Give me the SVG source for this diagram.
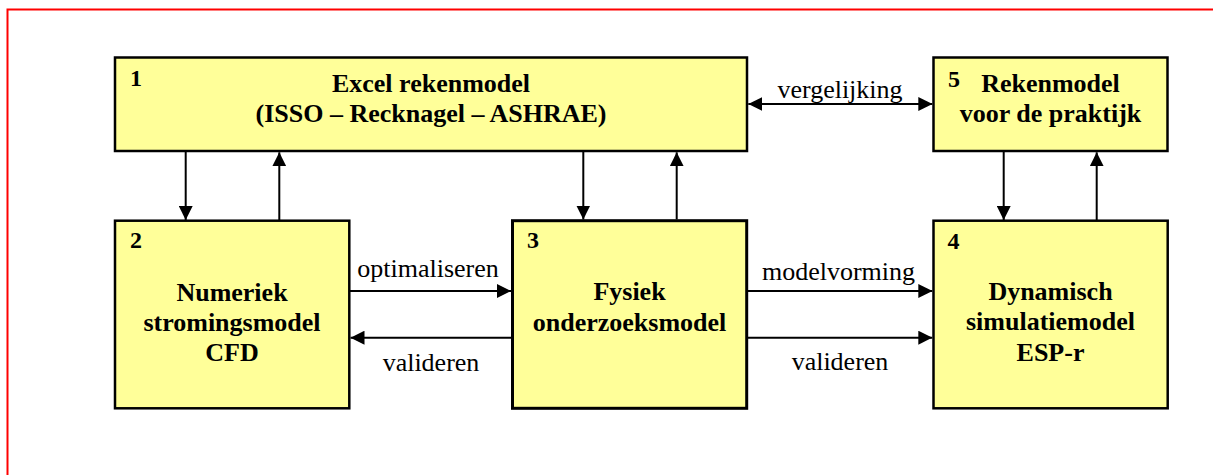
<svg xmlns="http://www.w3.org/2000/svg" width="1213" height="475" viewBox="0 0 1213 475">
<style>
.box{fill:#FFFF99;stroke:#000;stroke-width:2.5}
.c{stroke:#000;stroke-width:2;fill:none}
</style>
<defs>
<marker id="ah" viewBox="0 0 14 14" refX="14" refY="7" markerWidth="14" markerHeight="14" markerUnits="userSpaceOnUse" orient="auto-start-reverse">
<path d="M0,0 L14,7 L0,14 Z" fill="#000"/>
</marker>
</defs>
<rect x="0" y="0" width="1213" height="475" fill="#fff"/>
<rect x="7.5" y="9.5" width="1220" height="480" fill="none" stroke="#FF0000" stroke-width="2"/>
<g id="node1">
<rect class="box" x="115" y="57.5" width="632" height="93.5"/>
<text x="130" y="86" font-family="Liberation Serif" font-size="24" font-weight="bold">1</text>
<text x="431" y="91.5" font-family="Liberation Serif" font-size="26" font-weight="bold" text-anchor="middle">Excel rekenmodel</text>
<text x="431" y="121.5" font-family="Liberation Serif" font-size="26" font-weight="bold" text-anchor="middle">(ISSO – Recknagel – ASHRAE)</text>
</g>
<g id="node5">
<rect class="box" x="933.5" y="57.5" width="234" height="93.5"/>
<text x="948" y="86.5" font-family="Liberation Serif" font-size="24" font-weight="bold">5</text>
<text x="1050.5" y="92" font-family="Liberation Serif" font-size="26" font-weight="bold" text-anchor="middle">Rekenmodel</text>
<text x="1050.5" y="121.5" font-family="Liberation Serif" font-size="26" font-weight="bold" text-anchor="middle">voor de praktijk</text>
</g>
<g id="node2">
<rect class="box" x="115" y="220.7" width="234.3" height="187.6"/>
<text x="130" y="248.3" font-family="Liberation Serif" font-size="24" font-weight="bold">2</text>
<text x="232" y="300.5" font-family="Liberation Serif" font-size="26" font-weight="bold" text-anchor="middle">Numeriek</text>
<text x="232" y="330.5" font-family="Liberation Serif" font-size="26" font-weight="bold" text-anchor="middle">stromingsmodel</text>
<text x="232" y="361" font-family="Liberation Serif" font-size="26" font-weight="bold" text-anchor="middle">CFD</text>
</g>
<g id="node3">
<rect class="box" x="512.5" y="220.7" width="234.2" height="187.6" style="stroke-width:3"/>
<text x="527" y="248.3" font-family="Liberation Serif" font-size="24" font-weight="bold">3</text>
<text x="629.5" y="300" font-family="Liberation Serif" font-size="26" font-weight="bold" text-anchor="middle">Fysiek</text>
<text x="629.5" y="331" font-family="Liberation Serif" font-size="26" font-weight="bold" text-anchor="middle">onderzoeksmodel</text>
</g>
<g id="node4">
<rect class="box" x="933.5" y="220.7" width="234.2" height="187.6"/>
<text x="947.5" y="249" font-family="Liberation Serif" font-size="24" font-weight="bold">4</text>
<text x="1050.5" y="300" font-family="Liberation Serif" font-size="26" font-weight="bold" text-anchor="middle">Dynamisch</text>
<text x="1050.5" y="330" font-family="Liberation Serif" font-size="26" font-weight="bold" text-anchor="middle">simulatiemodel</text>
<text x="1050.5" y="361" font-family="Liberation Serif" font-size="26" font-weight="bold" text-anchor="middle">ESP-r</text>
</g>
<g id="connectors">
<line class="c" x1="185.7" y1="151" x2="185.7" y2="220" marker-end="url(#ah)"/>
<line class="c" x1="279.3" y1="220.7" x2="279.3" y2="152.3" marker-end="url(#ah)"/>
<line class="c" x1="583.3" y1="151" x2="583.3" y2="219.5" marker-end="url(#ah)"/>
<line class="c" x1="676.7" y1="219.5" x2="676.7" y2="152.3" marker-end="url(#ah)"/>
<line class="c" x1="1003.7" y1="151" x2="1003.7" y2="220" marker-end="url(#ah)"/>
<line class="c" x1="1096.7" y1="220.7" x2="1096.7" y2="152.3" marker-end="url(#ah)"/>
<line class="c" x1="748.3" y1="104" x2="932.3" y2="104" marker-start="url(#ah)" marker-end="url(#ah)"/>
<line class="c" x1="349.3" y1="291" x2="511" y2="291" marker-end="url(#ah)"/>
<line class="c" x1="512.3" y1="337.7" x2="350.5" y2="337.7" marker-end="url(#ah)"/>
<line class="c" x1="746.7" y1="291" x2="932.3" y2="291" marker-end="url(#ah)"/>
<line class="c" x1="746.7" y1="337.7" x2="932.3" y2="337.7" marker-end="url(#ah)"/>
<text x="840" y="98.3" font-family="Liberation Serif" font-size="26" text-anchor="middle">vergelijking</text>
<text x="428" y="277.3" font-family="Liberation Serif" font-size="26" text-anchor="middle">optimaliseren</text>
<text x="431" y="370.7" font-family="Liberation Serif" font-size="26" text-anchor="middle">valideren</text>
<text x="838.5" y="280" font-family="Liberation Serif" font-size="26" text-anchor="middle">modelvorming</text>
<text x="840" y="370" font-family="Liberation Serif" font-size="26" text-anchor="middle">valideren</text>
</g>
</svg>
